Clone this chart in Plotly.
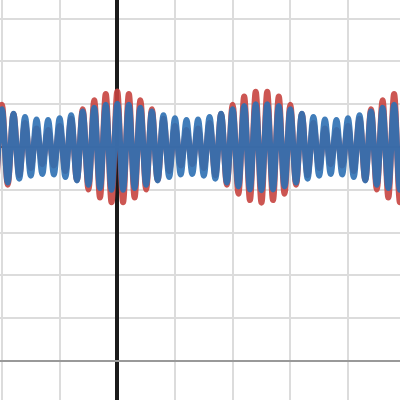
import plotly.graph_objects as go

RED = "#c74440"
BLUE = "#2d70b3"
GRID = "#dcdcdc"

# x positions of the wave extrema (half-period spacing)
X_START = -2.1
X_STEP = 0.1

# red curve: value at each extremum
RED_Y = [
    3.91, 5.99, 4.12, 5.77, 4.34, 5.56, 4.51, 5.43, 4.60, 5.40,
    4.57, 5.49, 4.44, 5.66, 4.23, 5.88, 4.01, 6.09, 3.82, 6.24,
    3.71, 6.30, 3.71, 6.24, 3.82, 6.09, 4.01, 5.88, 4.23, 5.66,
    4.44, 5.49, 4.57, 5.40, 4.60, 5.43, 4.51, 5.56, 4.34, 5.77,
    4.12, 5.99, 3.91, 6.18, 3.76, 6.29, 3.70, 6.29, 3.76, 6.18,
    3.91, 5.99, 4.12, 5.77, 4.34, 5.56, 4.51, 5.43, 4.60, 5.40,
    4.57, 5.49, 4.44, 5.66, 4.23, 5.88, 4.01, 6.09, 3.82, 6.24,
    3.71, 6.30,
]

# blue curve: value at each extremum
BLUE_Y = [
    4.08, 5.88, 4.17, 5.78, 4.26, 5.70, 4.33, 5.64, 4.37, 5.63,
    4.36, 5.67, 4.30, 5.74, 4.22, 5.83, 4.12, 5.92, 4.04, 5.99,
    4.00, 6.01, 4.00, 5.99, 4.04, 5.92, 4.12, 5.83, 4.22, 5.74,
    4.30, 5.67, 4.36, 5.63, 4.37, 5.64, 4.33, 5.70, 4.26, 5.78,
    4.17, 5.88, 4.08, 5.96, 4.01, 6.00, 3.99, 6.00, 4.01, 5.96,
    4.08, 5.88, 4.17, 5.78, 4.26, 5.70, 4.33, 5.64, 4.37, 5.63,
    4.36, 5.67, 4.30, 5.74, 4.22, 5.83, 4.12, 5.92, 4.04, 5.99,
    4.00, 6.01,
]

CENTER_Y = 5

X_RANGE = [-2.034, 4.902]
Y_RANGE = [-0.911, 8.435]

xs = [round(X_START + i * X_STEP, 2) for i in range(len(RED_Y))]

fig = go.Figure()
# thin dark line through the middle of the waves
fig.add_trace(go.Scatter(
    x=X_RANGE, y=[CENTER_Y, CENTER_Y], mode="lines",
    line=dict(color="#222222", width=1.5), hoverinfo="skip",
))
fig.add_trace(go.Scatter(
    x=xs, y=RED_Y, mode="lines",
    line=dict(color=RED, width=6, shape="spline", smoothing=1),
    opacity=0.9, hoverinfo="skip",
))
fig.add_trace(go.Scatter(
    x=xs, y=BLUE_Y, mode="lines",
    line=dict(color=BLUE, width=6, shape="spline", smoothing=1),
    opacity=0.9, hoverinfo="skip",
))

fig.update_layout(
    width=400, height=400,
    margin=dict(l=0, r=0, t=0, b=0),
    paper_bgcolor="white",
    plot_bgcolor="white",
    showlegend=False,
)
fig.update_xaxes(
    range=X_RANGE, dtick=1, tick0=0, showticklabels=False, ticks="",
    showgrid=True, gridcolor=GRID, gridwidth=1.5,
    zeroline=True, zerolinecolor="#1a1a1a", zerolinewidth=3.5,
    showline=False, fixedrange=True,
)
fig.update_yaxes(
    range=Y_RANGE, dtick=1, tick0=0, showticklabels=False, ticks="",
    showgrid=True, gridcolor=GRID, gridwidth=1.5,
    zeroline=True, zerolinecolor="#999999", zerolinewidth=2,
    showline=False, fixedrange=True,
)

fig.write_html(
    "out.html",
    config=dict(displayModeBar=False),
    post_script="document.body.style.margin='0';",
)
